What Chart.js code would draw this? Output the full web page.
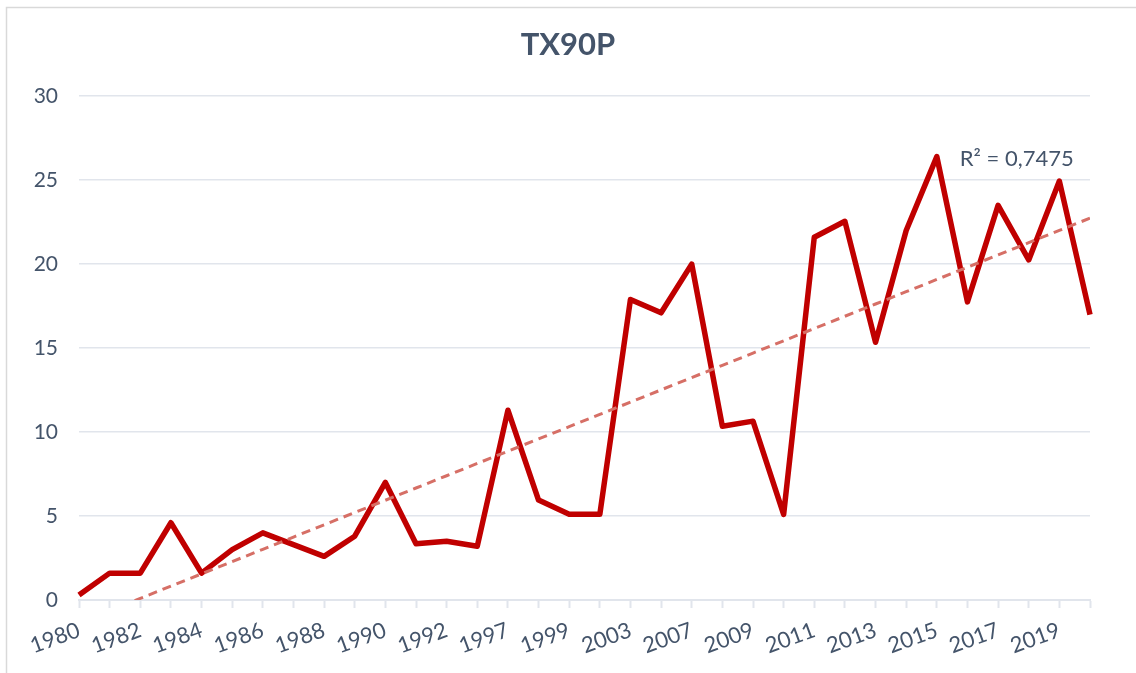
<!DOCTYPE html>
<html>
<head>
<meta charset="utf-8">
<script src="https://cdn.jsdelivr.net/npm/chart.js@4"></script>
<style>
  html, body { margin: 0; padding: 0; background: #fff; }
  #wrap { position: relative; width: 1136px; height: 673px; }
</style>
</head>
<body>
<div id="wrap"><canvas id="tx90p" width="1136" height="673"></canvas></div>
<script>
// years on the category axis (some years are missing in the source)
const years = [
  '1980', '1981', '1982', '1983', '1984', '1985', '1986', '1987', '1988', '1989',
  '1990', '1991', '1992', '1993', '1997', '1998', '1999', '2000', '2003', '2005',
  '2007', '2008', '2009', '2010', '2011', '2012', '2013', '2014', '2015', '2016',
  '2017', '2018', '2019', '2020'
];
// TX90P values
const tx90p = [
  0.3, 1.6, 1.6, 4.6, 1.6, 3.0, 4.0, 3.3, 2.6, 3.8,
  7.0, 3.35, 3.5, 3.2, 11.3, 5.95, 5.1, 5.1, 17.9, 17.1,
  20.0, 10.35, 10.65, 5.1, 21.6, 22.55, 15.35, 22.0, 26.4, 17.75,
  23.5, 20.25, 24.95, 17.0
];
const yTicks = [0, 5, 10, 15, 20, 25, 30];
const r2Label = 'R² = 0,7475';

const textColor = '#44546A';
const gridColor = '#E1E5EC';
const font = "Lato, 'Open Sans', sans-serif";

// linear trendline (least squares over the category index, like Excel does)
function linearTrend(values) {
  const n = values.length;
  let sx = 0, sy = 0, sxy = 0, sxx = 0;
  values.forEach((v, i) => { sx += i; sy += v; sxy += i * v; sxx += i * i; });
  const slope = (n * sxy - sx * sy) / (n * sxx - sx * sx);
  const b = (sy - slope * sx) / n;
  return values.map((v, i) => b + slope * i);
}

// light border round the chart, and the R² label of the trendline
const extras = {
  id: 'extras',
  beforeDraw(chart) {
    const ctx = chart.ctx;
    ctx.save();
    ctx.strokeStyle = '#D9D9D9';
    ctx.lineWidth = 1.5;
    ctx.strokeRect(6.5, 7.5, 2000, 2000);
    ctx.restore();
  },
  afterDatasetsDraw(chart) {
    const ctx = chart.ctx;
    const x = chart.scales.x.getPixelForValue(28.75);
    const y = chart.scales.y.getPixelForValue(26.25);
    ctx.save();
    ctx.font = '22px ' + font;
    ctx.fillStyle = textColor;
    ctx.textAlign = 'left';
    ctx.textBaseline = 'middle';
    ctx.fillText(r2Label, x, y);
    ctx.restore();
  }
};

new Chart(document.getElementById('tx90p'), {
  type: 'line',
  data: {
    labels: years,
    datasets: [{
      label: 'TX90P',
      data: tx90p,
      borderColor: '#C00000',
      borderWidth: 5.5,
      borderJoinStyle: 'round',
      pointRadius: 0,
      tension: 0,
      clip: false,
      order: 1
    }, {
      label: 'Trend',
      data: linearTrend(tx90p),
      borderColor: '#D66F66',
      borderWidth: 3,
      borderDash: [9, 6],
      pointRadius: 0,
      tension: 0,
      clip: 0,
      order: 0
    }]
  },
  options: {
    responsive: false,
    animation: false,
    layout: { padding: 0 },
    plugins: {
      legend: { display: false },
      tooltip: { enabled: false },
      title: {
        display: true,
        text: 'TX90P',
        color: textColor,
        font: { family: font, size: 31, weight: 'bold', lineHeight: 1.2 },
        padding: { top: 26, bottom: 33 }
      }
    },
    scales: {
      x: {
        grid: {
          drawOnChartArea: false,
          drawTicks: true,
          tickLength: 8,
          tickWidth: 2,
          color: gridColor
        },
        border: { display: true, color: gridColor, width: 2 },
        ticks: {
          autoSkip: false,
          minRotation: 20,
          maxRotation: 20,
          padding: 9,
          color: textColor,
          font: { family: font, size: 22 },
          // label every other year, as in the original
          callback: (v, i) => (i % 2 === 0 ? years[i] : '')
        },
        afterFit(scale) {
          scale.height = 73;
          // keep the plot's right edge where the original has it
          scale.paddingRight = 46;
        }
      },
      y: {
        min: 0,
        max: 30,
        afterBuildTicks(scale) { scale.ticks = yTicks.map(v => ({ value: v })); },
        grid: { color: gridColor, lineWidth: 1.5, drawTicks: false },
        border: { display: false },
        ticks: {
          padding: 21,
          color: textColor,
          font: { family: font, size: 21 }
        },
        afterFit(scale) { scale.width = 79; }
      }
    }
  },
  plugins: [extras]
});
</script>
</body>
</html>
